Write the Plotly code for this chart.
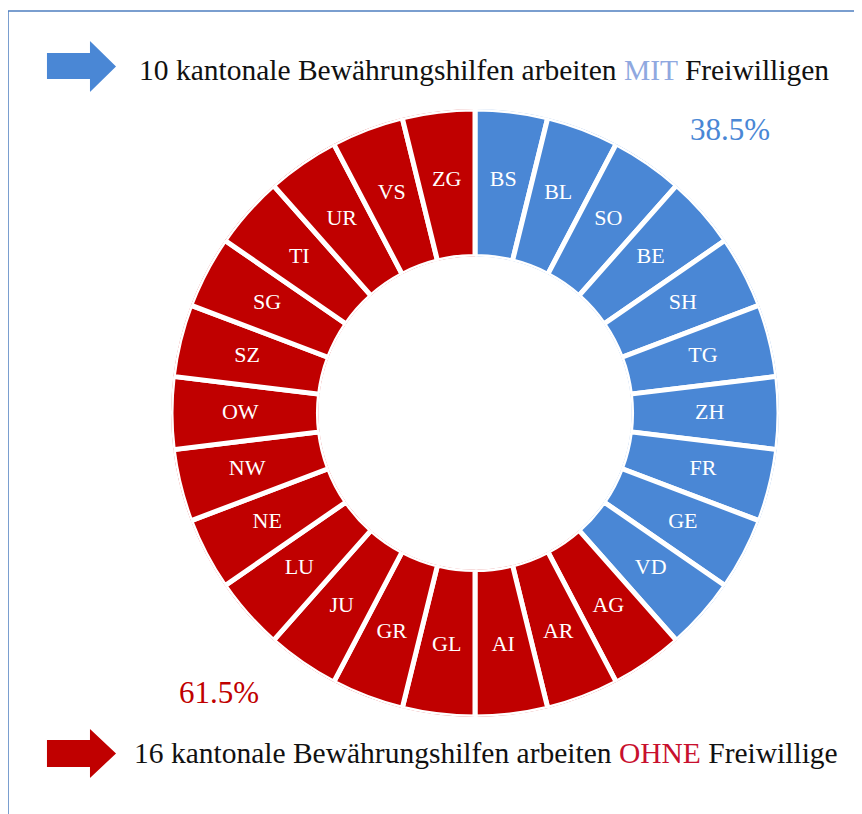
import plotly.graph_objects as go

cantons = ["BS", "BL", "SO", "BE", "SH", "TG", "ZH", "FR", "GE", "VD",
           "AG", "AR", "AI", "GL", "GR", "JU", "LU", "NE", "NW", "OW",
           "SZ", "SG", "TI", "UR", "VS", "ZG"]
weights = [1] * 26
groups = ["MIT"] * 10 + ["OHNE"] * 16
group_colors = {"MIT": "#4A87D5", "OHNE": "#C00000"}
pct_mit = "38.5%"
pct_ohne = "61.5%"
line_mit = "10 kantonale Bewährungshilfen arbeiten <span style='color:#8FA8E0'>MIT</span> Freiwilligen"
line_ohne = "16 kantonale Bewährungshilfen arbeiten <span style='color:#C8102E'>OHNE</span> Freiwillige"

SERIF = "Liberation Serif, Times New Roman, serif"
W, H = 862, 814
OFF = 8  # page body margin
def px(x):
    return (x - OFF) / W
def py(y):
    return 1 - (y - OFF) / H

cx, cy, r = 475, 413, 304
n = len(cantons)

fig = go.Figure()
fig.add_trace(go.Barpolar(
    theta=cantons, r=weights,
    marker=dict(color=[group_colors[g] for g in groups], line=dict(color="white", width=5)),
    hoverinfo="theta", showlegend=False,
))
fig.add_trace(go.Scatterpolar(
    theta=cantons, r=[w * 0.53 for w in weights], mode="text", text=cantons,
    textfont=dict(family=SERIF, size=22, color="white"),
    hoverinfo="skip", showlegend=False,
))

font = dict(family=SERIF, color="#111111")
anns = [
    dict(x=px(137), y=py(70), text=line_mit, xanchor="left", yanchor="middle", font=dict(size=29.5, **font)),
    dict(x=px(132), y=py(753), text=line_ohne, xanchor="left", yanchor="middle", font=dict(size=29.5, **font)),
    dict(x=px(730), y=py(129), text=pct_mit, xanchor="center", yanchor="middle", font=dict(size=31, family=SERIF, color="#4A87D5")),
    dict(x=px(219), y=py(692), text=pct_ohne, xanchor="center", yanchor="middle", font=dict(size=31, family=SERIF, color="#C00000")),
]
for a in anns:
    a.update(xref="paper", yref="paper", showarrow=False)

def arrow(x0, bx, x1, y0, y1, body0, body1, color):
    ym = (y0 + y1) / 2
    pts = [(x0, body0), (bx, body0), (bx, y0), (x1, ym), (bx, y1), (bx, body1), (x0, body1)]
    path = "M " + " L ".join(f"{px(a):.4f},{py(b):.4f}" for a, b in pts) + " Z"
    return dict(type="path", path=path, xref="paper", yref="paper", fillcolor=color, line=dict(width=0))

shapes = [
    arrow(47, 90, 116, 41, 92, 53, 79, "#4A87D5"),
    arrow(47, 90, 116, 729, 778, 740, 767, "#C00000"),
    dict(type="rect", xref="paper", yref="paper", x0=px(8), y0=py(840), x1=px(855), y1=py(11),
         line=dict(color="#4F7FC0", width=1.5), fillcolor="rgba(0,0,0,0)"),
]

fig.update_layout(
    width=W, height=H, margin=dict(l=0, r=0, t=0, b=0),
    paper_bgcolor="white", plot_bgcolor="white",
    polar=dict(
        domain=dict(x=[px(cx - r), px(cx + r)], y=[py(cy + r), py(cy - r)]),
        hole=0.515, bgcolor="rgba(0,0,0,0)", bargap=0,
        radialaxis=dict(range=[0, 1], visible=False),
        angularaxis=dict(type="category", direction="clockwise", rotation=90 - 180 / n,
                         visible=False, showgrid=False),
    ),
    annotations=anns, shapes=shapes,
)
fig.write_html("out.html")
